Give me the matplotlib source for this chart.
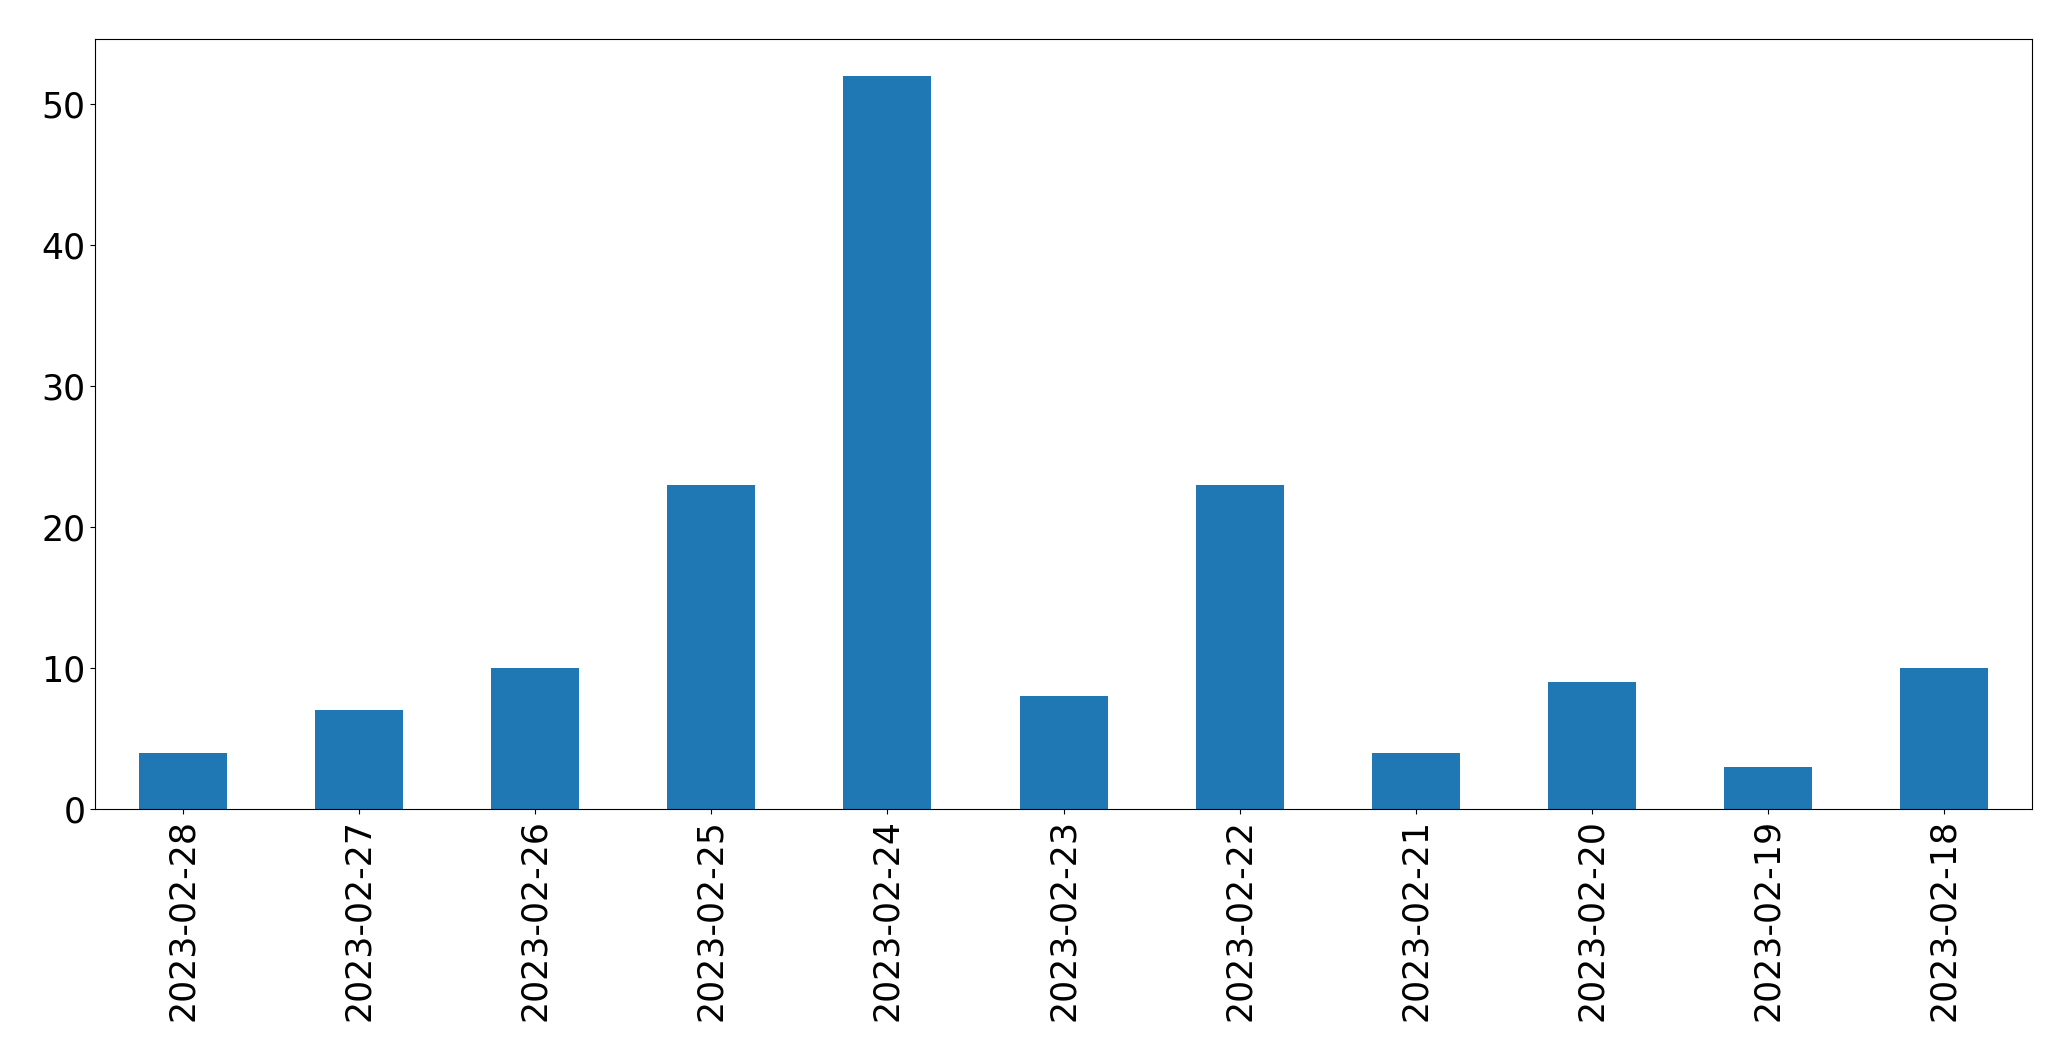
import matplotlib
matplotlib.use("Agg")
import matplotlib.pyplot as plt
import numpy as np

dates = ["2023-02-28", "2023-02-27", "2023-02-26", "2023-02-25", "2023-02-24",
         "2023-02-23", "2023-02-22", "2023-02-21", "2023-02-20", "2023-02-19",
         "2023-02-18"]
counts = [4, 7, 10, 23, 52, 8, 23, 4, 9, 3, 10]

fig = plt.figure(figsize=(20.71, 10.61), dpi=100)
ax = fig.add_axes([0.0459, 0.2375, 0.9353, 0.7258])
x = np.arange(len(dates))
ax.bar(x, counts, width=0.5, color="#1f77b4")
ax.set_xlim(-0.5, len(dates) - 0.5)
ax.set_xticks(x)
ax.set_xticklabels(dates, rotation=90)
ax.tick_params(axis="both", labelsize=25)
fig.savefig("out.png", dpi=100)
